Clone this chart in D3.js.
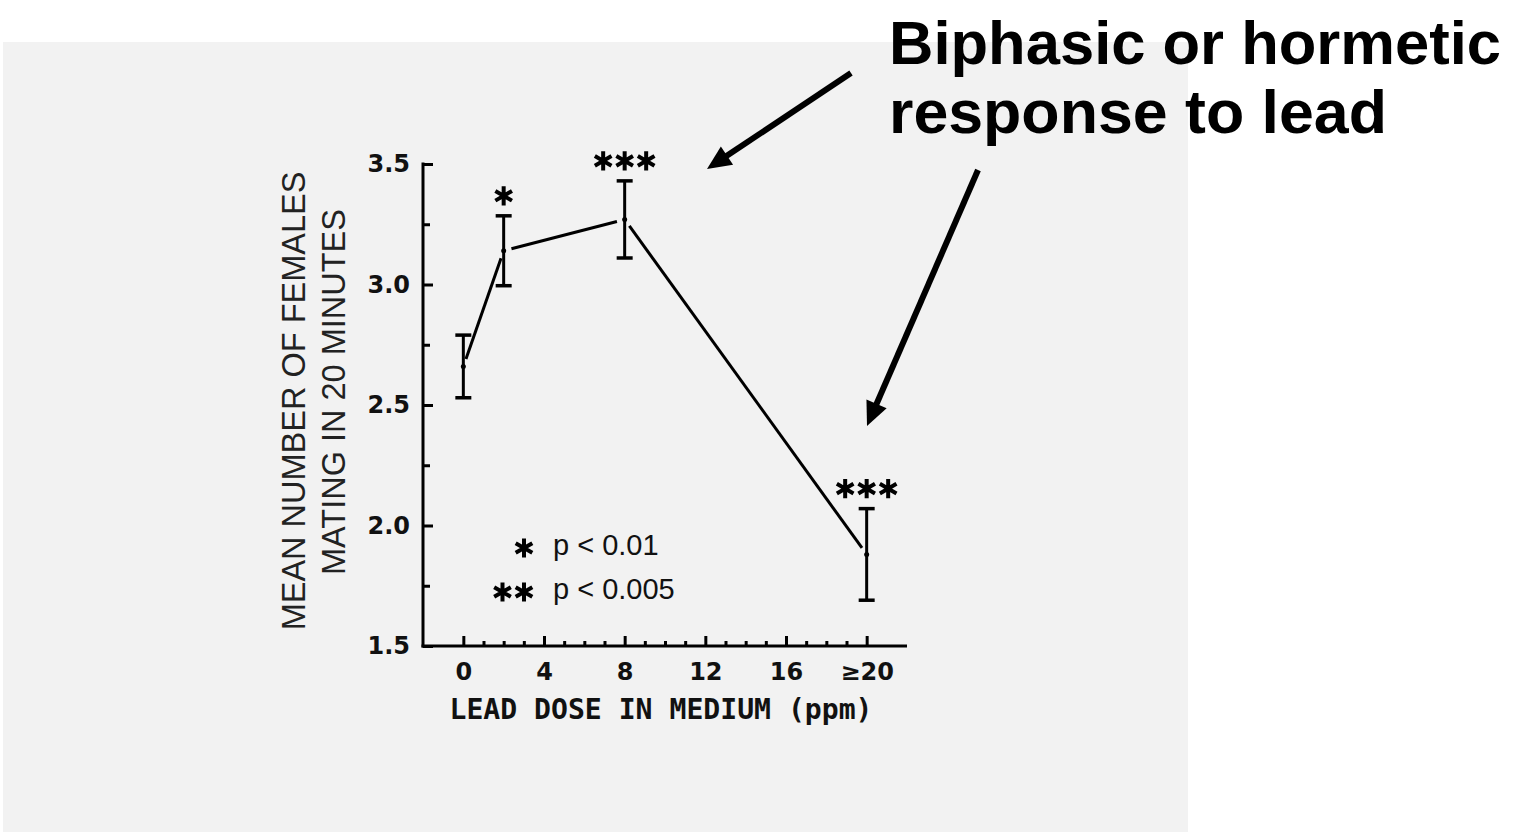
<!DOCTYPE html>
<html>
<head>
<meta charset="utf-8">
<script src="https://cdn.jsdelivr.net/npm/d3@7"></script>
<style>
  body { margin: 0; background: #fff; }
  svg { display: block; }
</style>
</head>
<body>
<svg width="1526" height="832"></svg>
<script>
// data
var doses = [0, 2, 8, 20];
var means = [2.66, 3.14, 3.27, 1.88];
var errors = [0.13, 0.145, 0.16, 0.19];
var starCounts = [0, 1, 3, 3];

var yTicks = [1.5, 2.0, 2.5, 3.0, 3.5];
var yTickLabels = ["1.5", "2.0", "2.5", "3.0", "3.5"];
var xTicks = [0, 4, 8, 12, 16, 20];
var xTickLabels = ["0", "4", "8", "12", "16", "\u226520"];

var legendStars = [1, 2];
var legendLabels = ["p < 0.01", "p < 0.005"];

var titleLines = ["Biphasic or hormetic", "response to lead"];
var titleWidths = [612, 498];
var yTitleLines = ["MEAN NUMBER OF FEMALES", "MATING IN 20 MINUTES"];
var xTitle = "LEAD DOSE IN MEDIUM (ppm)";

// annotation arrows (pixel positions on the slide)
var arrows = [
  {x1: 851, y1: 73, x2: 707, y2: 169},
  {x1: 978, y1: 170, x2: 867, y2: 426}
];

var sans = "'Liberation Sans', Arial, Helvetica, sans-serif";

var svg = d3.select("svg");

// grey slide panel
svg.append("rect")
  .attr("x", 3).attr("y", 42)
  .attr("width", 1185).attr("height", 790)
  .attr("fill", "#f2f2f2");

var x = d3.scaleLinear().domain([-2, 22]).range([423, 907]);
var y = d3.scaleLinear().domain([1.5, 3.5]).range([646, 164]);

// y ticks point inwards, minor every 0.25
var yTickG = svg.append("g")
  .attr("transform", "translate(" + x(-2) + ",0)")
  .call(d3.axisRight(y).tickValues(d3.range(1.5, 3.51, 0.25)).tickSize(10).tickFormat(""));
yTickG.select(".domain").remove();
yTickG.selectAll(".tick line")
  .attr("stroke", "#000")
  .attr("stroke-width", 3)
  .attr("x2", function(d) { return Math.abs(d * 2 - Math.round(d * 2)) < 1e-6 ? 10 : 7; });

var yLabelG = svg.append("g")
  .attr("transform", "translate(" + x(-2) + ",0)")
  .call(d3.axisLeft(y).tickValues(yTicks).tickSize(0).tickPadding(13)
    .tickFormat(function(d, i) { return yTickLabels[i]; }));
yLabelG.select(".domain").remove();
yLabelG.attr("font-family", "'DejaVu Sans', sans-serif").attr("font-size", 24).attr("font-weight", "bold");
yLabelG.selectAll("text").attr("fill", "#111");

// x ticks point upwards, minor every 1 ppm
var xTickG = svg.append("g")
  .attr("transform", "translate(0," + y(1.5) + ")")
  .call(d3.axisTop(x).tickValues(d3.range(0, 21, 1)).tickSize(10).tickFormat(""));
xTickG.select(".domain").remove();
xTickG.selectAll(".tick line")
  .attr("stroke", "#000")
  .attr("stroke-width", 3)
  .attr("y2", function(d) { return d % 4 === 0 ? -10 : -5; });

var xLabelG = svg.append("g")
  .attr("transform", "translate(0," + y(1.5) + ")")
  .call(d3.axisBottom(x).tickValues(xTicks).tickSize(0).tickPadding(17)
    .tickFormat(function(d, i) { return xTickLabels[i]; }));
xLabelG.select(".domain").remove();
xLabelG.attr("font-family", "'DejaVu Sans', sans-serif").attr("font-size", 24).attr("font-weight", "bold");
xLabelG.selectAll("text").attr("fill", "#111");

// axis lines
svg.append("line")
  .attr("x1", x(-2)).attr("x2", x(-2))
  .attr("y1", y(3.5) - 1.5).attr("y2", y(1.5) + 1.5)
  .attr("stroke", "#000").attr("stroke-width", 3);
svg.append("line")
  .attr("x1", x(-2) - 1.5).attr("x2", x(22))
  .attr("y1", y(1.5)).attr("y2", y(1.5))
  .attr("stroke", "#000").attr("stroke-width", 3);

// axis titles
svg.append("text")
  .attr("x", 661).attr("y", 719)
  .attr("text-anchor", "middle")
  .attr("font-family", "'DejaVu Sans Mono', monospace")
  .attr("font-size", 28)
  .attr("font-weight", "bold")
  .attr("textLength", 423)
  .attr("lengthAdjust", "spacingAndGlyphs")
  .attr("fill", "#111")
  .text(xTitle);

var yTitlePos = [[305, 401], [345, 392]];
svg.selectAll(".ytitle")
  .data(yTitleLines)
  .enter().append("text")
  .attr("class", "ytitle")
  .attr("transform", function(d, i) { return "translate(" + yTitlePos[i][0] + "," + yTitlePos[i][1] + ") rotate(-90)"; })
  .attr("text-anchor", "middle")
  .attr("font-family", sans)
  .attr("font-size", 32.5)
  .attr("fill", "#222")
  .text(function(d) { return d; });

// connecting line, drawn as segments that stop short of the points
var pts = doses.map(function(d, i) { return [x(d), y(means[i])]; });
var gap = 8;
for (var i = 0; i < pts.length - 1; i++) {
  var p0 = pts[i], p1 = pts[i + 1];
  var dx = p1[0] - p0[0], dy = p1[1] - p0[1];
  var len = Math.sqrt(dx * dx + dy * dy);
  var ux = dx / len, uy = dy / len;
  svg.append("line")
    .attr("x1", p0[0] + ux * gap).attr("y1", p0[1] + uy * gap)
    .attr("x2", p1[0] - ux * gap).attr("y2", p1[1] - uy * gap)
    .attr("stroke", "#000").attr("stroke-width", 3);
}

// error bars
var bars = svg.append("g").selectAll("g")
  .data(doses)
  .enter().append("g");
bars.append("line")
  .attr("x1", function(d) { return x(d); })
  .attr("x2", function(d) { return x(d); })
  .attr("y1", function(d, i) { return y(means[i] + errors[i]); })
  .attr("y2", function(d, i) { return y(means[i] - errors[i]); })
  .attr("stroke", "#000").attr("stroke-width", 3);
[1, -1].forEach(function(s) {
  bars.append("line")
    .attr("x1", function(d) { return x(d) - 8; })
    .attr("x2", function(d) { return x(d) + 8; })
    .attr("y1", function(d, i) { return y(means[i] + s * errors[i]); })
    .attr("y2", function(d, i) { return y(means[i] + s * errors[i]); })
    .attr("stroke", "#000").attr("stroke-width", 3.5);
});
bars.append("circle")
  .attr("cx", function(d) { return x(d); })
  .attr("cy", function(d, i) { return y(means[i]); })
  .attr("r", 2.5)
  .attr("fill", "#000");

// significance asterisks
var star = d3.symbol().type(d3.symbolAsterisk).size(260);
function drawStars(cx, cy, n) {
  for (var k = 0; k < n; k++) {
    svg.append("path")
      .attr("d", star())
      .attr("transform", "translate(" + (cx + (k - (n - 1) / 2) * 21.5) + "," + cy + ")")
      .attr("fill", "none")
      .attr("stroke", "#000")
      .attr("stroke-width", 4);
  }
}
doses.forEach(function(d, i) {
  if (starCounts[i] > 0) drawStars(x(d), y(means[i] + errors[i]) - 20, starCounts[i]);
});

// legend
legendStars.forEach(function(n, i) {
  var ly = 548 + i * 44;
  drawStars(524 - (n - 1) * 21.5 / 2, ly, n);
  svg.append("text")
    .attr("x", 553).attr("y", ly + 7)
    .attr("font-family", sans)
    .attr("font-size", 29)
    .attr("fill", "#111")
    .text(legendLabels[i]);
});

// slide title
svg.selectAll(".title")
  .data(titleLines)
  .enter().append("text")
  .attr("class", "title")
  .attr("x", 889)
  .attr("y", function(d, i) { return 64 + i * 69; })
  .attr("font-family", sans)
  .attr("font-size", 62)
  .attr("font-weight", "bold")
  .attr("textLength", function(d, i) { return titleWidths[i]; })
  .attr("lengthAdjust", "spacingAndGlyphs")
  .attr("fill", "#000")
  .text(function(d) { return d; });

// arrows
arrows.forEach(function(a) {
  var dx = a.x2 - a.x1, dy = a.y2 - a.y1;
  var len = Math.sqrt(dx * dx + dy * dy);
  var ux = dx / len, uy = dy / len;
  var head = 24, half = 11;
  var bx = a.x2 - ux * head, by = a.y2 - uy * head;
  svg.append("line")
    .attr("x1", a.x1).attr("y1", a.y1)
    .attr("x2", bx + ux * 2).attr("y2", by + uy * 2)
    .attr("stroke", "#000").attr("stroke-width", 6);
  svg.append("path")
    .attr("d", "M" + a.x2 + "," + a.y2 +
      "L" + (bx - uy * half) + "," + (by + ux * half) +
      "L" + (bx + uy * half) + "," + (by - ux * half) + "Z")
    .attr("fill", "#000");
});
</script>
</body>
</html>
